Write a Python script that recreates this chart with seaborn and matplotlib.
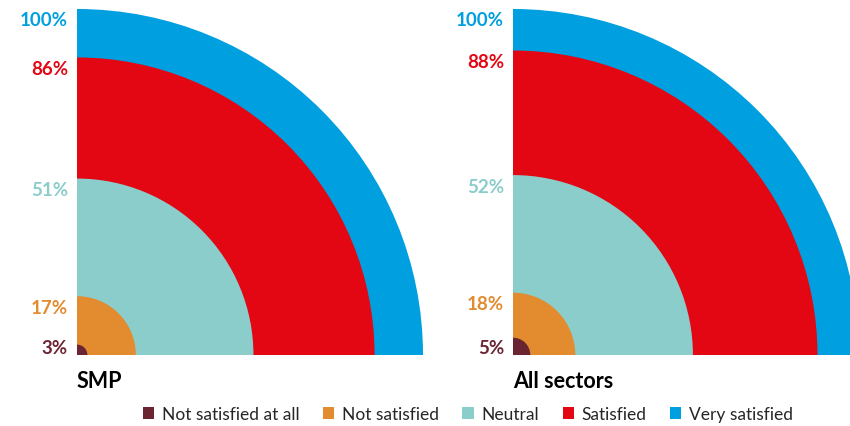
import matplotlib
matplotlib.use("Agg")
import matplotlib.pyplot as plt
import seaborn as sns
from matplotlib.patches import Wedge, Patch

# Data
categories = ["Not satisfied at all", "Not satisfied", "Neutral", "Satisfied", "Very satisfied"]
colors = ["#6B2431", "#E38B2F", "#8BCDCB", "#E30613", "#009FDF"]
smp_cum = [3, 17, 51, 86, 100]
all_cum = [5, 18, 52, 88, 100]
titles = ["SMP", "All sectors"]

sns.set_style("white")
plt.rcParams["font.family"] = ["Lato", "DejaVu Sans"]

W, H = 850, 427
fig = plt.figure(figsize=(W / 100, H / 100), dpi=100)

R = 346  # pixel radius of 100%
origins = [(77, 356), (513, 356)]

for (ox, oy), cum, title in zip(origins, [smp_cum, all_cum], titles):
    ax = fig.add_axes([ox / W, (H - oy) / H, R / W, R / H])
    ax.set_xlim(0, 100)
    ax.set_ylim(0, 100)
    ax.axis("off")
    # biggest first so smaller ones sit on top
    for v, c in sorted(zip(cum, colors), reverse=True):
        ax.add_patch(Wedge((0, 0), v, 0, 90, color=c, lw=0))
    for v, c in zip(cum, colors):
        ax.text(-2.6, max(v - 0.7, 4.6), f"{v}%", ha="right", va="top",
                color=c, fontsize=13.5, fontweight="bold", clip_on=False)
    ax.text(0, -4.4, title, ha="left", va="top", fontsize=15.5,
            fontweight="bold", color="black", clip_on=False)

handles = [Patch(facecolor=c, edgecolor="none") for c in colors]
fig.legend(handles, categories, loc="center", bbox_to_anchor=(468 / W, 1 - 415 / H),
           ncol=5, frameon=False, fontsize=12.5, handlelength=0.65, handleheight=0.65,
           handletextpad=0.45, columnspacing=1.35)

fig.savefig("out.png", dpi=100)
